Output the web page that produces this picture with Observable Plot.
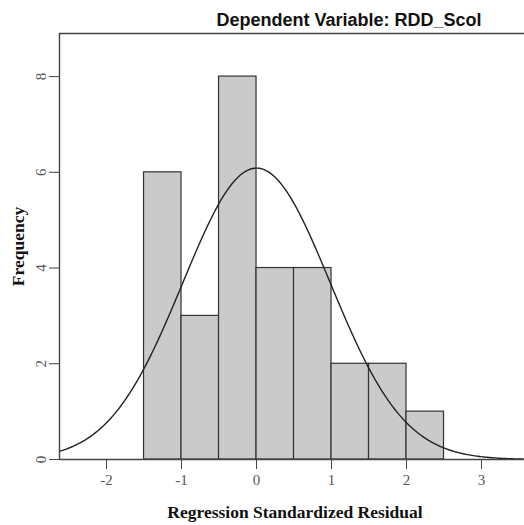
<!DOCTYPE html>
<html>
<head>
<meta charset="utf-8">
<script src="https://cdn.jsdelivr.net/npm/d3@7"></script>
<script src="https://cdn.jsdelivr.net/npm/@observablehq/plot@0.6"></script>
<style>
  body { margin: 0; background: #fff; }
</style>
</head>
<body>
<div id="chart"></div>
<script>
// Histogram of regression standardized residuals
const binStarts = [-1.5, -1, -0.5, 0, 0.5, 1, 1.5, 2];
const binWidth = 0.5;
const frequencies = [6, 3, 8, 4, 4, 2, 2, 1];
const xTicks = [-2, -1, 0, 1, 2, 3];
const yTicks = [0, 2, 4, 6, 8];

// Summary statistics of the residuals (for the normal curve)
const residualMean = 0;
const residualStdDev = 0.983;
const residualN = 30;

const title = "Dependent Variable: RDD_Scol";
const xLabel = "Regression Standardized Residual";
const yLabel = "Frequency";

const xDomain = [-2.627, 3.573];
const yDomain = [0, 8.9];

const bins = binStarts.map((x0, i) => ({x1: x0, x2: x0 + binWidth, count: frequencies[i]}));

// Normal density scaled to counts per bin
const normalCount = x =>
  residualN * binWidth / (residualStdDev * Math.sqrt(2 * Math.PI)) *
  Math.exp(-((x - residualMean) ** 2) / (2 * residualStdDev ** 2));
const curve = d3.range(xDomain[0], xDomain[1] + 1e-9, 0.02).map(x => ({x, y: normalCount(x)}));

const axisColor = "#444";
const tickTextColor = "#555";
const serif = "'Liberation Serif', 'Times New Roman', serif";

const chart = Plot.plot({
  width: 524,
  height: 525,
  marginLeft: 59,
  marginRight: 0,
  marginTop: 33,
  marginBottom: 66,
  style: {background: "#fff", fontFamily: serif, fontSize: "15px", overflow: "visible"},
  x: {domain: xDomain},
  y: {domain: yDomain},
  marks: [
    Plot.rectY(bins, {x1: "x1", x2: "x2", y: "count", fill: "#cacaca", stroke: "#333", strokeWidth: 1.2}),
    Plot.line(curve, {x: "x", y: "y", stroke: "#222", strokeWidth: 1.4, curve: "linear"}),
    Plot.ruleX([xDomain[0]], {stroke: axisColor, strokeWidth: 1.4}),
    Plot.ruleY([0], {stroke: axisColor, strokeWidth: 1.4}),
    Plot.ruleY([yDomain[1]], {stroke: axisColor, strokeWidth: 1.4}),
    Plot.axisX({
      ticks: xTicks, tickSize: 10, tickPadding: 5, stroke: axisColor, fill: tickTextColor,
      fontSize: 15, label: null, tickFormat: d => String(d)
    }),
    Plot.axisY({
      ticks: yTicks, tickSize: 10, tickPadding: 4, tickRotate: -90, stroke: axisColor,
      fill: tickTextColor, fontSize: 15, label: null
    }),
    Plot.text([xLabel], {
      frameAnchor: "bottom", dx: 3, dy: 58, fontWeight: "bold", fontSize: 17.5,
      fill: "#111", fontFamily: serif
    }),
    Plot.text([yLabel], {
      frameAnchor: "left", textAnchor: "middle", dx: -41, dy: 0, rotate: -90,
      fontWeight: "bold", fontSize: 17.5, fill: "#111", fontFamily: serif
    }),
    Plot.text([title], {
      frameAnchor: "top", dx: 57, dy: -20, fontWeight: "bold", fontSize: 18,
      fill: "#111", fontFamily: "'Liberation Sans', Arial, sans-serif"
    })
  ]
});

document.getElementById("chart").append(chart);
</script>
</body>
</html>
